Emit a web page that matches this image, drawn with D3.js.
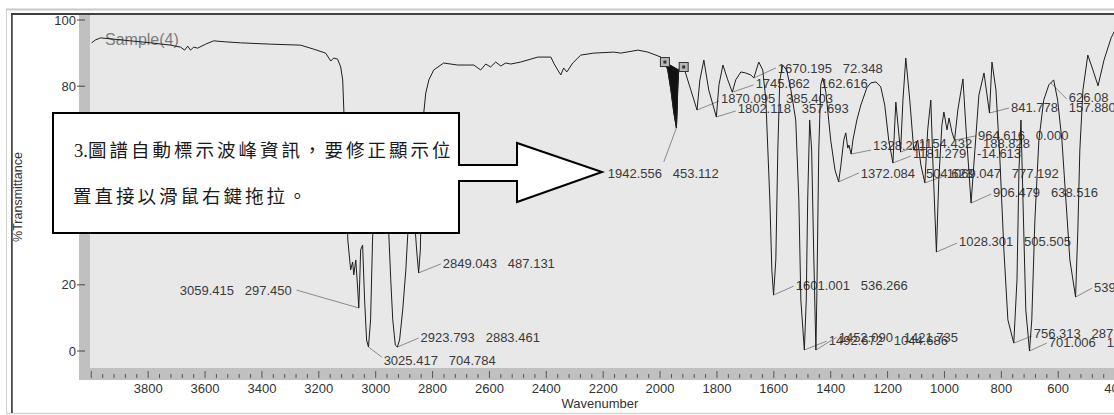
<!DOCTYPE html>
<html><head><meta charset="utf-8">
<script src="https://cdn.jsdelivr.net/npm/d3@7"></script>
<style>html,body{margin:0;padding:0;background:#fff;overflow:hidden}</style>
</head><body>
<svg id="c" width="1114" height="415"></svg>
<script>
// ---- data ----
const wavenumbers = [3999,3985,3967,3932,3862,3791,3721,3686,3672,3661,3651,3640,3626,3598,3570,3528,3475,3369,3264,3218,3176,3158,3148,3134,3123,3116,3112,3105,3098,3088,3081,3077,3070,3063,3059.4,3056,3053,3046,3039,3032,3025.4,3018,3011,3004,2996,2982,2968,2954,2947,2940,2931,2923.8,2916,2905,2894,2887,2877,2866,2856,2849,2843,2838,2831,2824,2813,2796,2761,2712,2655,2631,2613,2596,2578,2560,2543,2525,2490,2430,2384,2374,2360,2349,2339,2328,2307,2279,2233,2163,2138,2078,2043,1997,1983,1973,1962,1952,1942.6,1940,1938,1934.5,1927,1917,1892,1870.1,1860,1846,1829,1802.1,1793,1779,1762,1745.9,1734,1716,1699,1681,1670.2,1653,1639,1628,1614,1607,1601,1593,1586,1579,1569,1555,1540,1523,1512,1505,1492.7,1486,1481,1474,1467,1460,1452.1,1449,1442,1435,1428,1417,1400,1385,1372.1,1364,1354,1347,1340,1336,1328.2,1322,1308,1294,1273,1259,1241,1224,1210,1196,1181.3,1171,1154.4,1146,1136,1122,1108,1094,1083,1069,1059,1048,1041,1028.3,1020,1009,1002,991,984,974,964.6,953,935,924,906.5,893,879,861,841.8,833,819,805,791,777,756.3,745,738,731,724,714,701,693,682,668,651,633,616,602,587,573,559,539,531,524,513,496,478,460,439,414,400];
const transmittance = [93.1,94.0,94.6,94.3,93.7,93.1,92.4,91.8,90.9,92.1,90.9,91.8,91.5,92.7,93.7,93.4,93.1,92.7,92.4,91.2,90.0,87.6,88.5,88.2,85.8,81.9,72.8,57.7,33.5,24.5,26.9,23.0,27.5,18.4,13.0,21.5,30.5,32.0,15.4,3.3,1.2,9.4,33.5,48.6,54.7,57.7,48.6,35.6,21.5,9.4,1.8,1.2,3.3,12.4,24.5,35.6,47.1,42.6,30.5,23.6,30.5,51.7,71.9,77.9,81.9,84.9,87.0,86.4,86.4,84.9,86.7,85.8,87.3,86.1,87.0,86.7,87.3,88.8,88.8,87.0,84.9,83.4,85.5,84.3,87.0,89.4,90.0,90.3,90.0,90.9,90.3,88.8,87.3,84.9,78.9,72.2,67.4,72.8,78.9,84.9,86.7,85.8,78.9,72.8,81.9,87.9,78.9,70.7,80.4,86.4,81.9,78.2,81.9,84.3,84.0,83.4,82.5,87.3,84.9,75.8,45.6,24.5,16.9,27.5,60.7,81.9,86.4,84.9,78.9,69.8,45.6,15.4,0.3,15.4,45.6,69.8,60.7,30.5,0.3,15.4,60.7,80.4,82.5,78.2,63.7,54.7,51.1,56.2,63.7,65.9,61.3,62.2,59.5,63.7,69.8,74.3,79.5,81.0,81.3,79.8,74.3,63.7,56.8,75.2,60.1,75.8,88.5,75.8,60.7,63.7,56.2,50.8,66.8,75.8,57.7,29.9,51.7,68.3,72.2,66.8,70.4,66.2,63.7,72.8,82.2,66.8,44.7,60.7,77.3,84.0,71.9,87.3,78.9,57.7,30.5,9.4,2.4,21.5,54.7,69.8,45.6,12.4,0.0,9.4,39.6,63.7,75.8,80.4,81.9,75.8,63.7,45.6,27.5,16.3,36.6,60.7,78.9,89.4,84.9,80.1,87.9,94.6,97.0];
const xTickLabels = [3800,3600,3400,3200,3000,2800,2600,2400,2200,2000,1800,1600,1400,1200,1000,800,600,400];
const yTickLabels = [0,20,40,60,80,100];
// [peak wn, peak %T, leader end wn, leader end %T, text wn, text %T, text]
const peakLabels = [
  [3059.4,13.0,3278,18.4,3689,18.4,"3059.415   297.450"],
  [3025.4,1.2,2979,-1.8,2972,-2.7,"3025.417   704.784"],
  [2923.8,1.2,2849,3.9,2842,4.2,"2923.793   2883.461"],
  [2849.0,23.6,2771,26.3,2764,26.6,"2849.043   487.131"],
  [1942.6,67.4,1987,57.1,2184,53.8,"1942.556   453.112"],
  [1870.1,72.8,1793,75.5,1786,76.4,"1870.095   385.403"],
  [1802.1,70.7,1734,72.5,1727,73.4,"1802.118   357.693"],
  [1745.9,78.2,1671,80.4,1664,81.0,"1745.862   162.616"],
  [1670.2,82.5,1593,85.5,1586,85.5,"1670.195   72.348"],
  [1601.0,16.9,1530,19.6,1523,19.9,"1601.001   536.266"],
  [1492.7,0.3,1414,3.0,1407,3.3,"1492.672   1044.686"],
  [1452.1,0.3,1379,4.2,1372,4.2,"1452.090   1421.735"],
  [1372.1,51.1,1301,53.8,1294,53.8,"1372.084   504.623"],
  [1328.2,59.5,1258,60.7,1251,62.2,"1328.211"],
  [1154.4,60.1,1097,61.9,1090,62.8,"1154.432   188.828"],
  [1181.3,56.8,1118,58.9,1111,59.8,"1181.279   -14.613"],
  [964.6,63.7,889,65.0,882,65.3,"964.616   0.000"],
  [1069.0,50.8,999,52.9,992,53.8,"1069.047   777.192"],
  [906.5,44.7,836,47.4,829,48.0,"906.479   638.516"],
  [1028.3,29.9,956,32.6,949,33.2,"1028.301   505.505"],
  [841.8,71.9,773,73.4,766,73.7,"841.778   157.880"],
  [626.0,81.0,570,76.1,563,76.7,"626.08"],
  [756.3,2.4,693,4.5,686,5.4,"756.313   287"],
  [701.0,0.0,640,2.4,633,2.7,"701.006   1"],
  [539.0,16.3,481,19.0,474,19.3,"539"]
];
const markerPoints = [[1983,87.3],[1917,85.8]];
const filledPeakRange = [1983,1934.5];
const sampleName = "Sample(4)";
const calloutLines = [["3.","圖譜自動標示波峰資訊，要修正顯示位"],["","置直接以滑鼠右鍵拖拉。"]];
const xTitle = "Wavenumber", yTitle = "%Transmittance";

// ---- drawing ----
const svg = d3.select("#c");
const W = 1114, H = 415;
const P = {l:90, t:15, r:1114, b:368};
const x = d3.scaleLinear().domain([4000,400]).range([91.3,1115.1]);
const y = d3.scaleLinear().domain([0,100]).range([351,20]);
const sans = "'Liberation Sans', Arial, sans-serif";

svg.append("rect").attr("width",W).attr("height",H).attr("fill","#fff");
// window frame
svg.append("line").attr("x1",6).attr("x2",W).attr("y1",9.5).attr("y2",9.5).attr("stroke","#c8c8c8").attr("stroke-width",2);
svg.append("line").attr("x1",6.5).attr("x2",6.5).attr("y1",9).attr("y2",414).attr("stroke","#d0d0d0").attr("stroke-width",1);
svg.append("line").attr("x1",6).attr("x2",W).attr("y1",413.5).attr("y2",413.5).attr("stroke","#d4d4d4").attr("stroke-width",1.5);
svg.append("line").attr("x1",11).attr("x2",W).attr("y1",14).attr("y2",14).attr("stroke","#404040").attr("stroke-width",1.8);
svg.append("line").attr("x1",11.9).attr("x2",11.9).attr("y1",14).attr("y2",413).attr("stroke","#404040").attr("stroke-width",1.7);

// axis bands and plot background
svg.append("rect").attr("x",79).attr("y",15).attr("width",11).attr("height",380-15).attr("fill","#c0c0c0");
svg.append("rect").attr("x",79).attr("y",P.b).attr("width",W-79).attr("height",12).attr("fill","#c0c0c0");
svg.append("rect").attr("x",P.l).attr("y",P.t).attr("width",P.r-P.l).attr("height",P.b-P.t).attr("fill","#e8e8e8");

// y ticks
const yg = svg.append("g");
yTickLabels.forEach(v=>{
  yg.append("line").attr("x1",77).attr("x2",85).attr("y1",y(v)).attr("y2",y(v)).attr("stroke","#444");
  yg.append("text").attr("x",76).attr("y",y(v)).attr("dy","0.36em").attr("text-anchor","end")
    .attr("font-family",sans).attr("font-size",13).attr("fill","#333").text(v);
});
// x ticks
const xg = svg.append("g");
d3.range(4000,399,-40).forEach(v=>{
  const major = v % 200 === 0;
  xg.append("line").attr("x1",x(v)).attr("x2",x(v)).attr("y1",major?371:374).attr("y2",378)
    .attr("stroke","#555").attr("stroke-width",1);
});
xTickLabels.forEach(v=>{
  xg.append("text").attr("x",x(v)).attr("y",393).attr("text-anchor","middle")
    .attr("font-family",sans).attr("font-size",13).attr("fill","#333").text(v);
});
svg.append("text").attr("x",600).attr("y",408).attr("text-anchor","middle")
  .attr("font-family",sans).attr("font-size",13).attr("fill","#333").text(xTitle);
svg.append("text").attr("transform","translate(22,197) rotate(-90)").attr("text-anchor","middle")
  .attr("font-family",sans).attr("font-size",12.5).attr("fill","#333").text(yTitle);

// clip
svg.append("clipPath").attr("id","clip").append("rect")
  .attr("x",P.l).attr("y",P.t).attr("width",P.r-P.l).attr("height",P.b-P.t);
const plot = svg.append("g").attr("clip-path","url(#clip)");

plot.append("text").attr("x",105).attr("y",45).attr("font-family",sans).attr("font-size",16)
  .attr("fill","#7c7c7c").text(sampleName);

// peak labels
peakLabels.forEach(d=>{
  plot.append("line").attr("x1",x(d[0])).attr("y1",y(d[1])).attr("x2",x(d[2])).attr("y2",y(d[3]))
    .attr("stroke","#8a8a8a").attr("stroke-width",1);
  plot.append("text").attr("x",x(d[4])).attr("y",y(d[5])).attr("dy","0.36em")
    .attr("xml:space","preserve").style("white-space","pre")
    .attr("font-family",sans).attr("font-size",13).attr("fill","#3a3a3a").text(d[6]);
});

// spectrum
const pts = wavenumbers.map((w,i)=>[w,transmittance[i]]);
const line = d3.line().x(d=>x(d[0])).y(d=>y(d[1]));
const seg = pts.filter(d=>d[0]<=filledPeakRange[0] && d[0]>=filledPeakRange[1]);
plot.append("path").attr("d",line(seg)+"Z").attr("fill","#111").attr("stroke","#111");
plot.append("path").attr("d",line(pts)).attr("fill","none").attr("stroke","#1e1e1e").attr("stroke-width",1);

// markers
markerPoints.forEach(d=>{
  plot.append("rect").attr("x",x(d[0])-4.5).attr("y",y(d[1])-4.5).attr("width",9).attr("height",9)
    .attr("fill","#b8b8b8").attr("stroke","#333").attr("stroke-width",1);
  plot.append("rect").attr("x",x(d[0])-1.5).attr("y",y(d[1])-1.5).attr("width",3).attr("height",3)
    .attr("fill","#333");
});

// callout
const co = svg.append("g");
co.append("path").attr("d","M53,113H459V165H517V143L602,172L517,202V181H459V233H53Z")
  .attr("fill","#fff").attr("stroke","#000").attr("stroke-width",2).attr("stroke-linejoin","miter");
const cjk = "'Liberation Serif', 'Noto Sans CJK TC', serif";
[[74,157],[73,203]].forEach((p,i)=>{
  const t = co.append("text").attr("x",p[0]).attr("y",p[1]).attr("font-family",cjk)
    .attr("font-size",18.5).attr("fill","#1a1a1a");
  if (calloutLines[i][0]) t.append("tspan").attr("letter-spacing",0).text(calloutLines[i][0]);
  t.append("tspan").attr("letter-spacing",3).text(calloutLines[i][1]);
});
</script>
</body></html>
